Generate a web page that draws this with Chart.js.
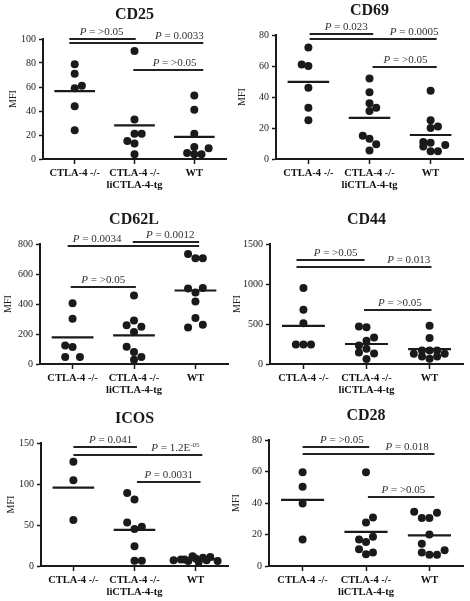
<!DOCTYPE html>
<html>
<head>
<meta charset="utf-8">
<script src="https://cdn.jsdelivr.net/npm/chart.js@4.4.1/dist/chart.umd.min.js"></script>
<style>
  body { margin: 0; background: #fff; }
  #wrap { position: relative; width: 470px; height: 601px; overflow: hidden; }
  #wrap canvas { position: absolute; }
</style>
</head>
<body>
<div id="wrap"></div>
<script>
const groupLabels = ['CTLA-4 -/-', ['CTLA-4 -/-', 'liCTLA-4-tg'], 'WT'];

// CD25
const cd25Values = [[79, 71, 61, 59, 44, 24], [90, 33, 21, 21, 15, 13, 4], [53, 41, 21, 10, 9, 5, 4, 4]];
const cd25Jitter = [[0, 0, 0.12, 0, 0, 0], [0, 0, 0, 0.12, -0.12, 0, 0], [0, 0, 0, 0, 0.24, -0.12, 0, 0.12]];
const cd25Means = [56.5, 28, 18.5];
const cd25Ticks = [0, 20, 40, 60, 80, 100];
const cd25Pairs = [[-0.09, 1.02, 100, '>0.05', 0.45], [-0.09, 2.15, 97, '0.0033', 1.75], [0.98, 2.15, 74, '>0.05', 1.67]];

// CD69
const cd69Values = [[72, 61, 60, 46, 33, 25], [52, 43, 36, 33, 31, 15, 13, 9.5, 5.5], [44, 25, 20, 21, 11, 10.5, 8, 9, 5, 5]];
const cd69Jitter = [[0, -0.11, 0, 0, 0, 0], [0, 0, 0, 0.11, 0, -0.11, 0, 0.11, 0], [0, 0, 0, 0.12, -0.12, 0, -0.12, 0.24, 0, 0.12]];
const cd69Means = [49.8, 26.5, 15.5];
const cd69Ticks = [0, 20, 40, 60, 80];
const cd69Pairs = [[0.02, 1.06, 80.4, '0.023', 0.62], [0.02, 2.1, 77.4, '0.0005', 1.73], [1.05, 2.1, 59.6, '>0.05', 1.59]];

// CD62L
const cd62lValues = [[405, 301, 124, 113, 47, 47], [456, 290, 259, 248, 213, 115, 80, 47, 29], [733, 705, 705, 503, 507, 476, 417, 306, 244, 261]];
const cd62lJitter = [[0, 0, -0.12, 0, -0.12, 0.12], [0, 0, -0.12, 0.12, 0, -0.12, 0, 0.12, 0], [-0.12, 0, 0.12, -0.12, 0.12, 0, 0, 0, -0.12, 0.12]];
const cd62lMeans = [177, 191, 490];
const cd62lTicks = [0, 200, 400, 600, 800];
const cd62lPairs = [[0.98, 2.06, 815, '0.0012', 1.59], [-0.08, 2.06, 789, '0.0034', 0.4], [-0.03, 1.03, 512, '>0.05', 0.5]];

// CD44
const cd44Values = [[950, 679, 508, 245, 245, 245], [470, 458, 330, 290, 230, 190, 145, 130, 62], [479, 325, 170, 170, 170, 129, 129, 95, 66, 95]];
const cd44Jitter = [[0, 0, 0, -0.12, 0, 0.12], [-0.12, 0, 0.12, 0, -0.12, 0, -0.12, 0.12, 0], [0, 0, -0.12, 0, 0.12, -0.25, 0.24, -0.12, 0, 0.12]];
const cd44Means = [477, 250, 187];
const cd44Ticks = [0, 500, 1000, 1500];
const cd44Pairs = [[-0.11, 0.97, 1304, '>0.05', 0.51], [-0.11, 2.03, 1208, '0.013', 1.67], [0.96, 2.03, 679, '>0.05', 1.53]];

// ICOS
const icosValues = [[127, 104.5, 56], [89, 81, 53, 48, 45, 24, 6.5, 6.5], [7, 8, 6, 12, 9, 5, 10, 11, 6, 8, 7]];
const icosJitter = [[0, 0, 0], [-0.12, 0, -0.12, 0.12, 0, 0, 0, 0.12], [-0.36, -0.24, -0.12, -0.05, 0, 0.05, 0.12, 0.24, 0.36, -0.18, 0.18]];
const icosMeans = [95.5, 44, 8];
const icosTicks = [0, 50, 100, 150];
const icosPairs = [[0, 1.04, 145, '0.041', 0.61], [0, 2.11, 135.8, '1.2E^-05', 1.67], [1.04, 2.08, 102.4, '0.0031', 1.56]];

// CD28
const cd28Values = [[59.5, 50.3, 39.7, 16.8], [59.5, 30.8, 27.6, 16.8, 15.3, 18.5, 10.6, 7.4, 8.5], [34.4, 30.4, 30.4, 33.8, 20, 14.2, 8.5, 7.2, 7.2, 10]];
const cd28Jitter = [[0, 0, 0, 0], [0, 0.11, 0, -0.11, 0, 0.11, -0.11, 0, 0.11], [-0.24, -0.12, 0, 0.12, 0, -0.12, -0.12, 0, 0.12, 0.24]];
const cd28Means = [42, 21.7, 19.5];
const cd28Ticks = [0, 20, 40, 60, 80];
const cd28Pairs = [[0, 1.05, 75.8, '>0.05', 0.62], [0, 2.08, 71.1, '0.018', 1.65], [1.03, 2.08, 43.5, '>0.05', 1.59]];

const SERIF = "'Liberation Serif', 'Times New Roman', serif";
const INK = '#1a1a1a';

// placement of each panel on the page (canvas origin + plot box inside it)
const panels = [
  { title: 'CD25', values: cd25Values, jitter: cd25Jitter, means: cd25Means, ticks: cd25Ticks, pairs: cd25Pairs,
    box: { x0: 0, y0: 0, w: 235, left: 43, right: 226, top: 39, bottom: 159, mfiX: 13 } },
  { title: 'CD69', values: cd69Values, jitter: cd69Jitter, means: cd69Means, ticks: cd69Ticks, pairs: cd69Pairs,
    box: { x0: 225, y0: 0, w: 245, left: 51, right: 238, top: 35, bottom: 159, mfiX: 17 } },
  { title: 'CD62L', values: cd62lValues, jitter: cd62lJitter, means: cd62lMeans, ticks: cd62lTicks, pairs: cd62lPairs,
    box: { x0: 0, y0: 200, w: 235, left: 40, right: 228, top: 44, bottom: 164, mfiX: 8 } },
  { title: 'CD44', values: cd44Values, jitter: cd44Jitter, means: cd44Means, ticks: cd44Ticks, pairs: cd44Pairs,
    box: { x0: 225, y0: 200, w: 245, left: 45, right: 238, top: 44, bottom: 164, mfiX: 12 } },
  { title: 'ICOS', values: icosValues, jitter: icosJitter, means: icosMeans, ticks: icosTicks, pairs: icosPairs,
    box: { x0: 0, y0: 400, w: 235, left: 41, right: 228, top: 43, bottom: 166, mfiX: 11 } },
  { title: 'CD28', values: cd28Values, jitter: cd28Jitter, means: cd28Means, ticks: cd28Ticks, pairs: cd28Pairs,
    box: { x0: 225, y0: 400, w: 245, left: 44, right: 238, top: 40, bottom: 166, mfiX: 11 } }
];

// draws the panel title and the P value brackets
const annotate = {
  id: 'annotate',
  afterDatasetsDraw(chart, args, opts) {
    const ctx = chart.ctx;
    const xs = chart.scales.x;
    const ys = chart.scales.y;
    ctx.save();

    // title above the middle group
    ctx.fillStyle = INK;
    ctx.font = 'bold 16px ' + SERIF;
    ctx.textAlign = 'center';
    ctx.textBaseline = 'middle';
    ctx.fillText(opts.title, xs.getPixelForValue(1), chart.chartArea.top - 24);

    ctx.strokeStyle = '#222';
    ctx.lineWidth = 1.8;
    ctx.textAlign = 'left';
    ctx.textBaseline = 'alphabetic';
    opts.pairs.forEach(p => {
      const y = Math.round(ys.getPixelForValue(p[2]));
      ctx.beginPath();
      ctx.moveTo(xs.getPixelForValue(p[0]), y);
      ctx.lineTo(xs.getPixelForValue(p[1]), y);
      ctx.stroke();

      const parts = p[3].split('^');
      const main = ' = ' + parts[0];
      const sup = parts[1] || '';
      ctx.font = 'italic 11px ' + SERIF;
      const wP = ctx.measureText('P').width;
      ctx.font = '11px ' + SERIF;
      const wMain = ctx.measureText(main).width;
      ctx.font = '7px ' + SERIF;
      const wSup = sup ? ctx.measureText(sup).width : 0;
      let x = xs.getPixelForValue(p[4]) - (wP + wMain + wSup) / 2;
      const base = y - 4;
      ctx.fillStyle = '#333';
      ctx.font = 'italic 11px ' + SERIF;
      ctx.fillText('P', x, base);
      x += wP;
      ctx.font = '11px ' + SERIF;
      ctx.fillText(main, x, base);
      x += wMain;
      if (sup) {
        ctx.font = '7px ' + SERIF;
        ctx.fillText(sup, x, base - 4);
      }
    });
    ctx.restore();
  }
};

const wrap = document.getElementById('wrap');

panels.forEach(pn => {
  const b = pn.box;
  const H = 200;
  const canvas = document.createElement('canvas');
  canvas.width = b.w;
  canvas.height = H;
  canvas.style.left = b.x0 + 'px';
  canvas.style.top = b.y0 + 'px';
  wrap.appendChild(canvas);

  const datasets = [];
  // mean bars
  pn.means.forEach((m, g) => {
    datasets.push({
      data: [{ x: g - 0.34, y: m }, { x: g + 0.34, y: m }],
      showLine: true,
      borderColor: INK,
      borderWidth: 2.2,
      pointRadius: 0,
      clip: false
    });
  });
  // individual animals
  const pts = [];
  pn.values.forEach((arr, g) => {
    arr.forEach((v, k) => pts.push({ x: g + pn.jitter[g][k], y: v }));
  });
  datasets.push({
    data: pts,
    pointRadius: 4,
    pointBackgroundColor: INK,
    pointBorderWidth: 0,
    clip: false
  });

  const yMax = pn.ticks[pn.ticks.length - 1];

  new Chart(canvas.getContext('2d'), {
    type: 'scatter',
    data: { datasets: datasets },
    options: {
      responsive: false,
      animation: false,
      events: [],
      layout: { padding: { left: 0, right: b.w - b.right, top: b.top, bottom: 0 } },
      plugins: {
        legend: { display: false },
        tooltip: { enabled: false },
        annotate: { title: pn.title, pairs: pn.pairs }
      },
      scales: {
        x: {
          type: 'linear',
          min: -0.53,
          max: 2.53,
          afterBuildTicks: s => { s.ticks = [0, 1, 2].map(v => ({ value: v })); },
          afterFit: s => { s.height = H - b.bottom; },
          ticks: {
            callback: v => groupLabels[v],
            autoSkip: false,
            maxRotation: 0,
            padding: 3,
            color: '#111',
            font: { family: SERIF, size: 10.5, weight: 'bold', lineHeight: 1.15 }
          },
          grid: { drawOnChartArea: false, drawTicks: true, tickLength: 5, tickWidth: 1.5, tickColor: INK },
          border: { display: true, color: INK, width: 2 }
        },
        y: {
          min: 0,
          max: yMax,
          afterBuildTicks: s => { s.ticks = pn.ticks.map(v => ({ value: v })); },
          afterFit: s => { s.width = b.left; },
          ticks: {
            callback: v => String(v),
            padding: 3,
            color: '#222',
            font: { family: SERIF, size: 10 }
          },
          grid: { drawOnChartArea: false, drawTicks: true, tickLength: 4, tickWidth: 1.5, tickColor: INK },
          border: { display: true, color: INK, width: 2 },
          title: {
            display: true,
            text: 'MFI',
            color: '#222',
            font: { family: SERIF, size: 10 },
            padding: { top: Math.max(b.mfiX - 6, 0), bottom: 0 }
          }
        }
      }
    },
    plugins: [annotate]
  });
});
</script>
</body>
</html>
